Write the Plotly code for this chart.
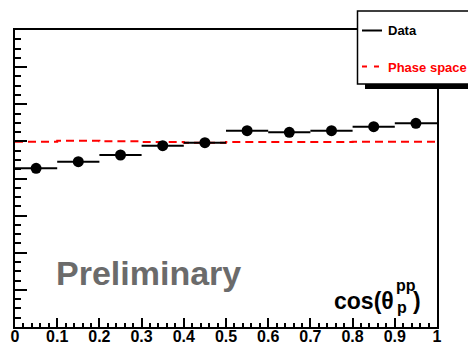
import plotly.graph_objects as go

# Data (arbitrary units)
bin_centers = [0.05, 0.15, 0.25, 0.35, 0.45, 0.55, 0.65, 0.75, 0.85, 0.95]
data_values = [4.275, 4.453, 4.633, 4.884, 4.965, 5.288, 5.244, 5.288, 5.396, 5.486]
bin_edges = [0.0, 0.1, 0.2, 0.3, 0.4, 0.5, 0.6, 0.7, 0.8, 0.9, 1.0]
phase_space = [4.991, 5.018, 5.002, 4.983, 4.964, 4.983, 4.983, 4.983, 4.991, 4.991]
x_tick_vals = [0, 0.1, 0.2, 0.3, 0.4, 0.5, 0.6, 0.7, 0.8, 0.9, 1]
x_tick_text = ["0", "0.1", "0.2", "0.3", "0.4", "0.5", "0.6", "0.7", "0.8", "0.9", "1"]

W, H = 468, 345
L, R, T, B = 15, 437, 30, 327
FONT = "Liberation Sans, Arial, Helvetica, sans-serif"


def px(x):
    return (x - L) / (R - L)


def py(y):
    return (B - y) / (B - T)


fig = go.Figure()

fig.add_trace(go.Scatter(
    x=bin_edges,
    y=phase_space + [phase_space[-1]],
    mode="lines",
    line=dict(shape="hv", color="red", width=2, dash="8px,5px"),
    name="Phase space",
    showlegend=False,
))

fig.add_trace(go.Scatter(
    x=bin_centers,
    y=data_values,
    mode="markers",
    marker=dict(size=11, color="black"),
    error_x=dict(type="constant", value=0.05, width=0, thickness=2, color="black"),
    name="Data",
    showlegend=False,
))

shapes = []
# legend shadow and box
shapes.append(dict(type="rect", xref="paper", yref="paper",
                   x0=px(365), x1=px(472), y0=py(89), y1=py(83),
                   fillcolor="black", line=dict(width=0), layer="above"))
shapes.append(dict(type="rect", xref="paper", yref="paper",
                   x0=px(357.5), x1=px(472), y0=py(84), y1=py(11),
                   fillcolor="white", line=dict(color="black", width=1.5), layer="above"))
shapes.append(dict(type="line", xref="paper", yref="paper",
                   x0=px(362), x1=px(382), y0=py(30.5), y1=py(30.5),
                   line=dict(color="black", width=2), layer="above"))
shapes.append(dict(type="line", xref="paper", yref="paper",
                   x0=px(362), x1=px(381), y0=py(66.5), y1=py(66.5),
                   line=dict(color="red", width=2, dash="5px,7px"), layer="above"))

annotations = [
    dict(text="<b>Data</b>", x=px(386), y=py(31), xref="paper", yref="paper",
         xanchor="left", yanchor="middle", showarrow=False,
         font=dict(family=FONT, size=13, color="black")),
    dict(text="<b>Phase space</b>", x=px(386), y=py(67), xref="paper", yref="paper",
         xanchor="left", yanchor="middle", showarrow=False,
         font=dict(family=FONT, size=13, color="red")),
    dict(text="<b>Preliminary</b>", x=px(54), y=py(273), xref="paper", yref="paper",
         xanchor="left", yanchor="middle", showarrow=False,
         font=dict(family=FONT, size=34, color="#6b6b6b")),
    dict(text="<b>cos(θ</b>", x=px(396), y=py(301), xref="paper", yref="paper",
         xanchor="right", yanchor="middle", showarrow=False,
         font=dict(family=FONT, size=23, color="black")),
    dict(text="<b>pp</b>", x=px(394), y=py(285), xref="paper", yref="paper",
         xanchor="left", yanchor="middle", showarrow=False,
         font=dict(family=FONT, size=16, color="black")),
    dict(text="<b>p</b>", x=px(395), y=py(307), xref="paper", yref="paper",
         xanchor="left", yanchor="middle", showarrow=False,
         font=dict(family=FONT, size=16, color="black")),
    dict(text="<b>)</b>", x=px(411), y=py(301), xref="paper", yref="paper",
         xanchor="left", yanchor="middle", showarrow=False,
         font=dict(family=FONT, size=23, color="black")),
]

fig.update_layout(
    width=W, height=H,
    margin=dict(l=L, r=W - R, t=T, b=H - B, pad=0, autoexpand=False),
    paper_bgcolor="white", plot_bgcolor="white",
    showlegend=False,
    shapes=shapes,
    annotations=annotations,
    font=dict(family=FONT),
)

fig.update_xaxes(
    range=[0, 1], tickmode="array", tickvals=x_tick_vals, ticktext=[f"<b>{t}</b>" for t in x_tick_text],
    ticks="inside", ticklen=9, tickwidth=1.5, tickcolor="black",
    minor=dict(dtick=0.02, ticks="inside", ticklen=4.5, tickwidth=1.5, tickcolor="black"),
    showline=True, linecolor="black", linewidth=2, mirror=True,
    showgrid=False, zeroline=False, automargin=False,
    ticklabelstandoff=-6,
    tickfont=dict(family=FONT, size=16, color="black"),
)
fig.update_yaxes(
    range=[0, 8], dtick=1, showticklabels=False,
    ticks="inside", ticklen=12, tickwidth=1.5, tickcolor="black",
    minor=dict(dtick=0.25, ticks="inside", ticklen=6, tickwidth=1.5, tickcolor="black"),
    showline=True, linecolor="black", linewidth=2, mirror=True,
    showgrid=False, zeroline=False, automargin=False,
)

fig.write_html("out.html")
